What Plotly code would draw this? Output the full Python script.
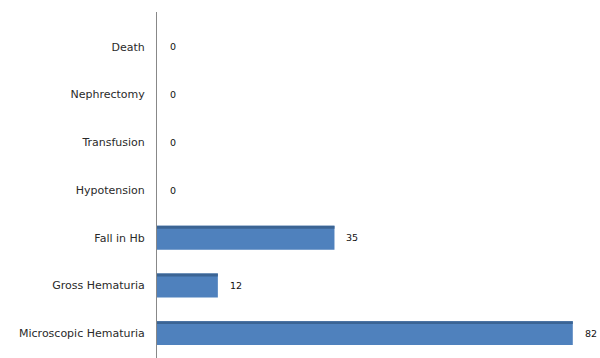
import plotly.graph_objects as go

categories = ["Microscopic Hematuria", "Gross Hematuria", "Fall in Hb", "Hypotension",
              "Transfusion", "Nephrectomy", "Death"]
values = [82, 12, 35, 0, 0, 0, 0]

BAR_W = 0.5
fig = go.Figure()
fig.add_trace(go.Bar(
    y=categories, x=values, orientation="h",
    marker=dict(color="#4F81BD", line=dict(width=0)),
    width=BAR_W,
))
for i, (c, v) in enumerate(zip(categories, values)):
    if v > 0:
        fig.add_shape(type="rect", xref="x", yref="y",
                      x0=0, x1=v, y0=i + BAR_W / 2 - 0.06, y1=i + BAR_W / 2,
                      fillcolor="#3B6494", line=dict(width=0), layer="above")
    fig.add_annotation(x=v, y=c, text=str(v), showarrow=False,
                       xanchor="left", xshift=10 if v > 0 else 11,
                       font=dict(family="DejaVu Sans", size=9.5, color="#111"))
fig.update_layout(
    width=600, height=358, margin=dict(l=157, r=12, t=12, b=0),
    paper_bgcolor="white", plot_bgcolor="white", showlegend=False,
    xaxis=dict(range=[0, 85], visible=False),
    yaxis=dict(range=[-0.52, 6.73], showline=True, linecolor="#888", linewidth=1,
               showgrid=False, ticks="", ticklabelstandoff=9,
               tickfont=dict(family="DejaVu Sans", size=11, color="#2a2a2a")),
)
fig.write_html("out.html")
